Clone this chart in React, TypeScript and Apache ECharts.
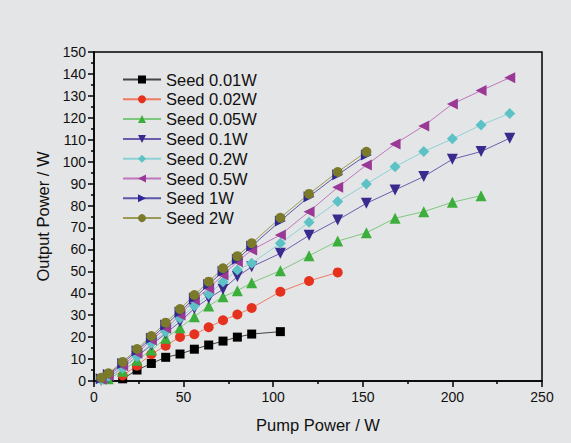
import React, { useEffect, useRef } from "react";
import * as echarts from "echarts";

const pump = [4, 8, 16, 24, 32, 40, 48, 56, 64, 72, 80, 88, 104, 120, 136, 152, 168, 184, 200, 216, 232];

const seed001x = [16, 24, 32, 40, 48, 56, 64, 72, 80, 88, 104];
const seed001 = [1, 5, 8, 10.8, 12.3, 14.5, 16.4, 18.2, 20, 21.4, 22.5];

const seed002x = [16, 24, 32, 40, 48, 56, 64, 72, 80, 88, 104, 120, 136];
const seed002 = [2.5, 7, 12.2, 16.1, 20.1, 21.3, 24.5, 27.7, 30.3, 33.3, 40.7, 45.6, 49.5];

const seed005x = [8, 16, 24, 32, 40, 48, 56, 64, 72, 80, 88, 104, 120, 136, 152, 168, 184, 200, 216];
const seed005 = [1, 4.5, 9.5, 14.1, 19.5, 24.3, 29.3, 34.2, 38.4, 41.2, 44.8, 50.3, 57.1, 63.8, 67.6, 74.2, 77.2, 81.5, 84.5];

const seed01 = [0.3, 1.5, 6, 11.1, 16.4, 21.7, 27, 33.1, 37.7, 41.8, 47.6, 52.1, 58.2, 66.4, 73.4, 81, 87.1, 93.2, 101.1, 104.6, 110.7];
const seed02 = [0.5, 2, 5.8, 11.1, 17.2, 22.5, 28.6, 34.2, 39.5, 45.3, 50.6, 53.7, 62.8, 72.4, 81.8, 89.8, 97.7, 104.6, 110.4, 116.7, 122];
const seed05 = [0.8, 2.5, 7, 12.6, 18.7, 24, 30.1, 36.9, 42.3, 48.3, 54.4, 59.7, 66.6, 77.2, 88.3, 98.5, 108.1, 116.3, 126.3, 132.4, 138.3];

const seed1x = [4, 8, 16, 24, 32, 40, 48, 56, 64, 72, 80, 88, 104, 120, 136, 152];
const seed1 = [1, 3, 8, 13.8, 19.5, 25.5, 31.5, 37.8, 44, 50, 55.5, 61.5, 73, 84, 94, 103];
const seed2 = [1.5, 3.5, 8.7, 14.6, 20.5, 26.6, 32.8, 39.2, 45.3, 51.4, 56.9, 62.8, 74.4, 85.3, 95.3, 104.5];

const seriesNames = ["Seed 0.01W", "Seed 0.02W", "Seed 0.05W", "Seed 0.1W", "Seed 0.2W", "Seed 0.5W", "Seed 1W", "Seed 2W"];

const zip = (xs: number[], ys: number[]) => ys.map((y, i) => [xs[i], y]);

export default function App() {
  const ref = useRef<HTMLDivElement>(null);
  useEffect(() => {
    if (!ref.current) return;
    const chart = echarts.init(ref.current, null, { renderer: "svg" });
    const font = "Liberation Sans, Arial, sans-serif";
    const mk = (
      name: string,
      data: number[][],
      symbol: string,
      markerColor: string,
      lineColor: string,
      size = 9,
      rotate = 0
    ) => ({
      name,
      type: "line",
      data,
      symbol,
      symbolSize: size,
      symbolRotate: rotate,
      itemStyle: { color: markerColor },
      lineStyle: { color: lineColor, width: 1 },
      z: 2,
    });
    const series = [
      mk(seriesNames[0], zip(seed001x, seed001), "rect", "#000000", "#444444", 9),
      mk(seriesNames[1], zip(seed002x, seed002), "circle", "#e4321f", "#ee7a62", 10),
      mk(seriesNames[2], zip(seed005x, seed005), "triangle", "#3cae3c", "#7ec87e", 11),
      mk(seriesNames[3], zip(pump, seed01), "triangle", "#3a2a8e", "#6c5cae", 11, 180),
      mk(seriesNames[4], zip(pump, seed02), "diamond", "#5cc2c6", "#8ed2d4", 11),
      mk(seriesNames[5], zip(pump, seed05), "triangle", "#9a3896", "#c076bc", 11, 90),
      mk(seriesNames[6], zip(seed1x, seed1), "triangle", "#2e2896", "#5a56aa", 11, -90),
      mk(seriesNames[7], zip(seed1x, seed2), "circle", "#7a7a2a", "#9a9a56", 10),
    ];
    chart.setOption({
      animation: false,
      backgroundColor: "#e4e5e6",
      textStyle: { fontFamily: font },
      grid: {
        left: 94,
        right: 29,
        top: 52,
        bottom: 62,
        show: true,
        borderColor: "#000",
        borderWidth: 1.5,
        backgroundColor: "transparent",
      },
      legend: {
        orient: "vertical",
        left: 117,
        top: 66,
        itemWidth: 38,
        itemHeight: 10,
        itemGap: 2.8,
        textStyle: { fontSize: 16.5, color: "#111", fontFamily: font },
        data: seriesNames,
      },
      xAxis: {
        type: "value",
        min: 0,
        max: 250,
        interval: 50,
        name: "Pump Power / W",
        nameLocation: "middle",
        nameGap: 35,
        nameTextStyle: { fontSize: 16.5, color: "#111", fontFamily: font },
        axisLine: { lineStyle: { color: "#000", width: 1.5 } },
        axisTick: { inside: false, length: 6, lineStyle: { color: "#000", width: 1.5 } },
        minorTick: { show: true, splitNumber: 2, length: 3, lineStyle: { color: "#000", width: 1.5 } },
        axisLabel: { fontSize: 14, color: "#111", margin: 9, fontFamily: font },
        splitLine: { show: false },
      },
      yAxis: {
        type: "value",
        min: 0,
        max: 150,
        interval: 10,
        name: "Output Power / W",
        nameLocation: "middle",
        nameGap: 41,
        nameTextStyle: { fontSize: 16.5, color: "#111", fontFamily: font },
        axisLine: { lineStyle: { color: "#000", width: 1.5 } },
        axisTick: { inside: false, length: 6, lineStyle: { color: "#000", width: 1.5 } },
        minorTick: { show: true, splitNumber: 2, length: 3, lineStyle: { color: "#000", width: 1.5 } },
        axisLabel: { fontSize: 14, color: "#111", margin: 8, fontFamily: font },
        splitLine: { show: false },
      },
      series,
    });
    return () => chart.dispose();
  }, []);
  return (
    <div
      ref={ref}
      style={{ position: "absolute", left: 0, top: 0, width: 571, height: 443 }}
    />
  );
}
